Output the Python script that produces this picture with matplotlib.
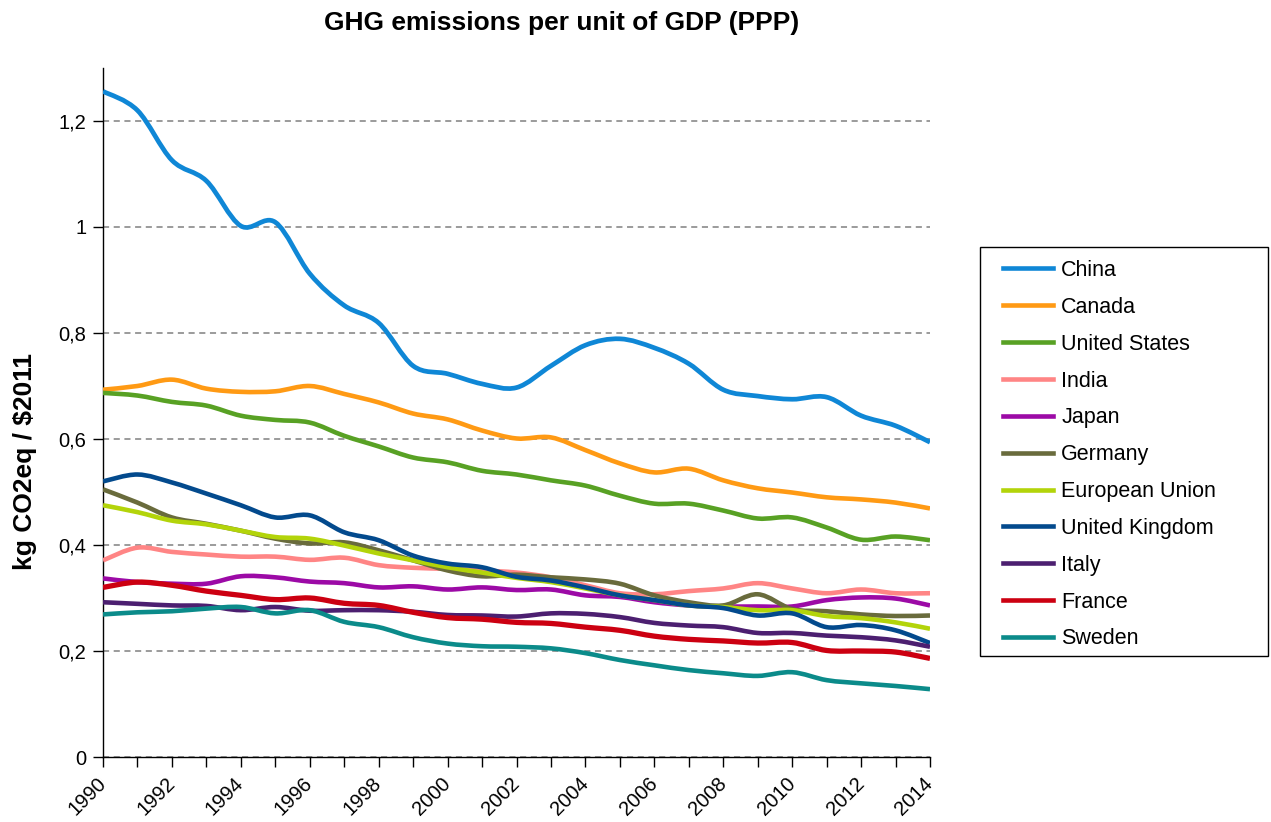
import matplotlib
matplotlib.use("Agg")
import matplotlib.pyplot as plt
import numpy as np
from matplotlib.path import Path
from matplotlib.patches import PathPatch, Rectangle
from matplotlib.lines import Line2D
from matplotlib.ticker import MultipleLocator, FuncFormatter

plt.rcParams['font.family'] = ['Liberation Sans', 'DejaVu Sans']

years = list(range(1990, 2015))

china = [1.256, 1.22, 1.126, 1.087, 1.002, 1.009, 0.912, 0.852, 0.819, 0.738, 0.723, 0.704, 0.697,
         0.738, 0.777, 0.789, 0.772, 0.742, 0.693, 0.681, 0.675, 0.679, 0.644, 0.625, 0.594]
canada = [0.693, 0.700, 0.712, 0.695, 0.689, 0.690, 0.700, 0.685, 0.669, 0.648, 0.637, 0.616, 0.601,
          0.603, 0.579, 0.554, 0.537, 0.544, 0.522, 0.507, 0.499, 0.490, 0.486, 0.480, 0.469]
usa = [0.687, 0.682, 0.670, 0.663, 0.644, 0.636, 0.631, 0.606, 0.586, 0.565, 0.556, 0.540, 0.533,
       0.522, 0.512, 0.493, 0.478, 0.478, 0.465, 0.450, 0.452, 0.433, 0.410, 0.416, 0.409]
india = [0.371, 0.395, 0.387, 0.382, 0.378, 0.378, 0.372, 0.376, 0.362, 0.357, 0.355, 0.352, 0.348,
         0.339, 0.324, 0.309, 0.307, 0.313, 0.318, 0.328, 0.318, 0.309, 0.316, 0.309, 0.309]
japan = [0.337, 0.330, 0.327, 0.327, 0.341, 0.339, 0.331, 0.328, 0.320, 0.322, 0.316, 0.320, 0.315,
         0.316, 0.305, 0.302, 0.292, 0.286, 0.284, 0.284, 0.284, 0.296, 0.301, 0.299, 0.286]
germany = [0.505, 0.480, 0.452, 0.440, 0.427, 0.412, 0.403, 0.405, 0.390, 0.371, 0.352, 0.341, 0.344,
           0.339, 0.335, 0.327, 0.305, 0.292, 0.286, 0.307, 0.279, 0.275, 0.269, 0.266, 0.267]
eu = [0.475, 0.462, 0.446, 0.439, 0.427, 0.415, 0.412, 0.399, 0.384, 0.371, 0.358, 0.348, 0.338,
      0.330, 0.318, 0.305, 0.296, 0.286, 0.283, 0.277, 0.277, 0.266, 0.262, 0.254, 0.242]
uk = [0.520, 0.533, 0.518, 0.497, 0.475, 0.452, 0.456, 0.424, 0.409, 0.380, 0.365, 0.358, 0.340,
      0.333, 0.320, 0.305, 0.296, 0.286, 0.281, 0.267, 0.271, 0.245, 0.249, 0.239, 0.215]
italy = [0.292, 0.289, 0.286, 0.285, 0.277, 0.283, 0.276, 0.277, 0.277, 0.274, 0.268, 0.267, 0.265,
         0.271, 0.270, 0.264, 0.253, 0.248, 0.245, 0.234, 0.234, 0.229, 0.226, 0.220, 0.208]
france = [0.320, 0.330, 0.324, 0.313, 0.305, 0.297, 0.300, 0.290, 0.286, 0.273, 0.263, 0.260, 0.254,
          0.252, 0.245, 0.239, 0.228, 0.222, 0.219, 0.215, 0.216, 0.201, 0.200, 0.198, 0.186]
sweden = [0.269, 0.273, 0.275, 0.280, 0.283, 0.271, 0.277, 0.255, 0.245, 0.226, 0.214, 0.209, 0.208,
          0.205, 0.196, 0.183, 0.173, 0.164, 0.158, 0.153, 0.160, 0.145, 0.139, 0.134, 0.128]

names = ["China", "Canada", "United States", "India", "Japan", "Germany",
         "European Union", "United Kingdom", "Italy", "France", "Sweden"]
series = [china, canada, usa, india, japan, germany, eu, uk, italy, france, sweden]
colors = ["#0f87d6", "#ff9a14", "#58a124", "#ff8585", "#9c0aa6", "#696b3c",
          "#b3d40a", "#034a8d", "#4c1f70", "#cc0011", "#0b8b8a"]
widths = [3.4, 3.3, 3.3, 3.3, 3.3, 3.3, 3.3, 3.3, 3.3, 3.8, 3.3]


def smooth_path(x, y):
    x = np.asarray(x, float)
    y = np.asarray(y, float)
    p = np.column_stack([x, y])
    n = len(p)
    ext = np.vstack([p[0], p, p[-1]])
    verts = [p[0]]
    codes = [Path.MOVETO]
    for i in range(n - 1):
        p0, p1, p2, p3 = ext[i], ext[i + 1], ext[i + 2], ext[i + 3]
        c1 = p1 + (p2 - p0) / 6.0
        c2 = p2 - (p3 - p1) / 6.0
        verts += [c1, c2, p2]
        codes += [Path.CURVE4] * 3
    return Path(verts, codes)


fig = plt.figure(figsize=(12.71, 8.22), dpi=100)
ax = fig.add_axes([103 / 1271, 1 - 757 / 822, (930 - 103) / 1271, (757 - 68) / 822])

for name, vals, c, lw in zip(names, series, colors, widths):
    patch = PathPatch(smooth_path(years, vals), fill=False, edgecolor=c, lw=lw,
                      capstyle='butt', joinstyle='round', zorder=3)
    ax.add_patch(patch)

ax.set_xlim(1990, 2014)
ax.set_ylim(0, 1.3)

ax.yaxis.set_major_locator(MultipleLocator(0.2))
ax.yaxis.set_major_formatter(FuncFormatter(
    lambda v, p: ("%g" % round(v, 1)).replace('.', ',')))
ax.xaxis.set_major_locator(MultipleLocator(2))
ax.xaxis.set_minor_locator(MultipleLocator(1))
ax.xaxis.set_major_formatter(FuncFormatter(lambda v, p: "%d" % v))

ax.grid(axis='y', color='#808080', linestyle=(0, (4, 3)), lw=1.1, zorder=1)
ax.set_axisbelow(True)

for s in ['top', 'right']:
    ax.spines[s].set_visible(False)
for s in ['left', 'bottom']:
    ax.spines[s].set_color('black')
    ax.spines[s].set_linewidth(1.0)

ax.tick_params(axis='y', direction='out', length=7, width=1, pad=5, labelsize=14.5)
ax.tick_params(axis='x', which='both', direction='out', length=7, width=1,
               labelsize=14.5, pad=10)
for lbl in ax.get_xticklabels():
    lbl.set_rotation(45)
    lbl.set_ha('right')
    lbl.set_va('center')
    lbl.set_rotation_mode('anchor')

fig.text(562 / 1271, 1 - 23 / 822, "GHG emissions per unit of GDP (PPP)",
         ha='center', va='center', fontsize=19, fontweight='bold')
fig.text(25 / 1271, 1 - 461 / 822, r"kg CO2eq / \$2011", rotation=90,
         ha='center', va='center', fontsize=19, fontweight='bold')

# legend frame
fig.add_artist(Rectangle((980 / 1271, 1 - 656 / 822), (1268 - 980) / 1271, (656 - 247) / 822,
                         transform=fig.transFigure, fill=False, edgecolor='black', lw=1.0))

handles = [Line2D([], [], color=c, lw=3.3) for c in colors]
leg = fig.legend(handles, names, loc='upper left',
                 bbox_to_anchor=(1003 / 1271, 1 - 260 / 822),
                 borderaxespad=0, fontsize=15.5, frameon=False,
                 handlelength=2.33, handletextpad=0.37, labelspacing=0.736, borderpad=0)

fig.savefig("out.png", dpi=100)
